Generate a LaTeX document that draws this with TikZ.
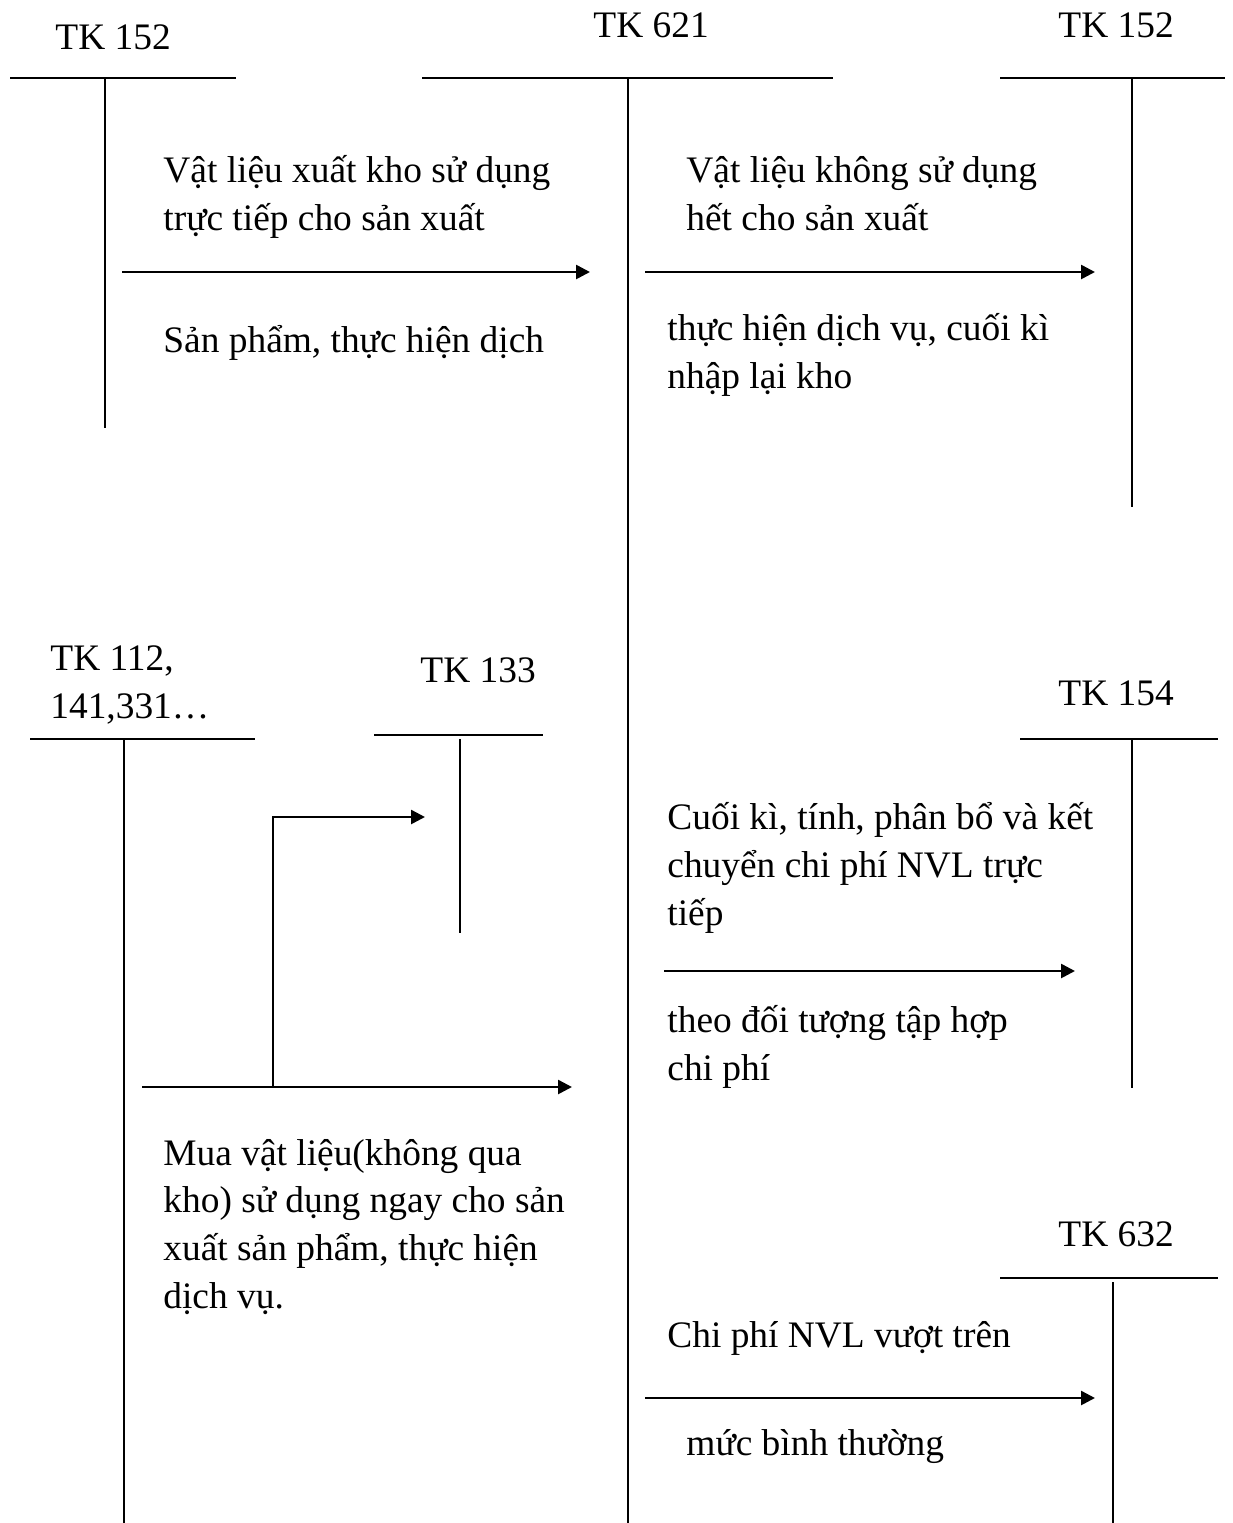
\documentclass[tikz,border=0pt]{standalone}
\usepackage{fontspec}
\setmainfont{Liberation Serif}
\usetikzlibrary{arrows.meta}

\begin{document}
\begin{tikzpicture}[
    x=0.5pt, y=-0.5pt,
    acct/.style={line width=1pt},
    flow/.style={-{Triangle[length=7pt,width=7pt]}, line width=1.3pt},
    lbl/.style={anchor=base west, inner sep=0pt, align=left,
                font=\fontsize{18.7}{23.8}\selectfont}
  ]
  \useasboundingbox (0,0) rectangle (1233,1523);

  % T accounts (multi-line labels sit on their last baseline)
  \node[lbl] (tk152a) at (55,49) {TK 152};
  \draw[acct] (10,78) -- (236,78) (105,78) -- (105,428);
  \node[lbl] (tk621) at (593,37) {TK 621};
  \draw[acct] (422,78) -- (833,78) (628,78) -- (628,1523);
  \node[lbl] (tk152b) at (1058,37) {TK 152};
  \draw[acct] (1000,78) -- (1225,78) (1132,78) -- (1132,507);
  \node[lbl] (tk112) at (50,718) {TK 112,\\141,331…};
  \draw[acct] (30,739) -- (255,739) (124,739) -- (124,1523);
  \node[lbl] (tk133) at (420,682) {TK 133};
  \draw[acct] (374,735) -- (543,735) (460,739) -- (460,933);
  \node[lbl] (tk154) at (1058,705) {TK 154};
  \draw[acct] (1020,739) -- (1218,739) (1132,739) -- (1132,1088);
  \node[lbl] (tk632) at (1058,1246) {TK 632};
  \draw[acct] (1000,1278) -- (1218,1278) (1113,1282) -- (1113,1523);

  % flows
  \coordinate (f1s) at (122,272);
  \coordinate (f1e) at (590,272);
  \draw[flow] (f1s) -- (f1e);
  \node[lbl] (t1a) at (163,230) {Vật liệu xuất kho sử dụng\\trực tiếp cho sản xuất};
  \node[lbl] (t1b) at (163,352) {Sản phẩm, thực hiện dịch};

  \coordinate (f2s) at (645,272);
  \coordinate (f2e) at (1095,272);
  \draw[flow] (f2s) -- (f2e);
  \node[lbl] (t2a) at (686,230) {Vật liệu không sử dụng\\hết cho sản xuất};
  \node[lbl] (t2b) at (667,388) {thực hiện dịch vụ, cuối kì\\nhập lại kho};

  \coordinate (f3s) at (142,1087);
  \coordinate (f3e) at (572,1087);
  \coordinate (f3k) at (273,1087);
  \coordinate (f3t) at (425,817);
  \draw[flow] (f3s) -- (f3e);
  \draw[flow] (f3k) |- (f3t);
  \node[lbl] (t3) at (163,1308) {Mua vật liệu(không qua\\kho) sử dụng ngay cho sản\\xuất sản phẩm, thực hiện\\dịch vụ.};

  \coordinate (f4s) at (664,971);
  \coordinate (f4e) at (1075,971);
  \draw[flow] (f4s) -- (f4e);
  \node[lbl] (t4a) at (667,925) {Cuối kì, tính, phân bổ và kết\\chuyển chi phí NVL trực\\tiếp};
  \node[lbl] (t4b) at (667,1080) {theo đối tượng tập hợp\\chi phí};

  \coordinate (f5s) at (645,1398);
  \coordinate (f5e) at (1095,1398);
  \draw[flow] (f5s) -- (f5e);
  \node[lbl] (t5a) at (667,1347) {Chi phí NVL vượt trên};
  \node[lbl] (t5b) at (686,1455) {mức bình thường};
\end{tikzpicture}
\end{document}
